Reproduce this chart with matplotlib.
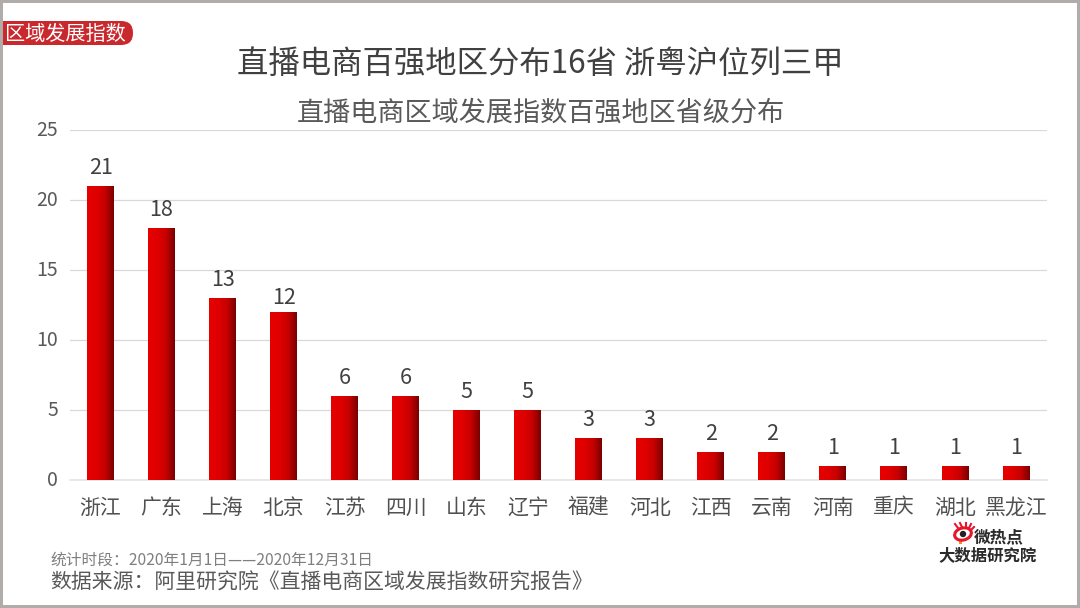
import numpy as np
import matplotlib
matplotlib.use('Agg')
from matplotlib import pyplot as plt
from matplotlib.colors import LinearSegmentedColormap
from matplotlib.lines import Line2D
from matplotlib.patches import Circle, Ellipse, FancyBboxPatch, Rectangle
from matplotlib.transforms import ScaledTranslation

plt.rcParams['font.family'] = ['Noto Sans CJK SC', 'DejaVu Sans']

provinces = ['浙江', '广东', '上海', '北京', '江苏', '四川', '山东', '辽宁',
             '福建', '河北', '江西', '云南', '河南', '重庆', '湖北', '黑龙江']
counts = [21, 18, 13, 12, 6, 6, 5, 5, 3, 3, 2, 2, 1, 1, 1, 1]
y_ticks = [0, 5, 10, 15, 20, 25]

W, H = 1080, 608


def fx(px):
    return px / W


def fy(py):
    return 1 - py / H


fig = plt.figure(figsize=(W / 100, H / 100), dpi=100, facecolor='white')
ax = fig.add_axes([fx(70), fy(480), (1046.5 - 70) / W, (480 - 130) / H])

# bars get a left to right red gradient
grad = LinearSegmentedColormap.from_list('bar', ['#e60000', '#e00000', '#c80000', '#7a0000'])
bars = ax.bar(range(len(counts)), counts, width=0.44, color='#c00000', zorder=2)
for b, n in zip(bars, counts):
    x0, w = b.get_x(), b.get_width()
    ax.imshow(np.linspace(0, 1, 64).reshape(1, -1), cmap=grad, aspect='auto', zorder=3,
              extent=(x0, x0 + w, 0, b.get_height()), interpolation='bilinear')
    # the 12 label sits closer to its bar in the original
    gap = 0.19 if n == 12 else 0.47
    ax.text(x0 + w / 2, n + gap, str(n), ha='center', va='bottom', fontsize=15.5, color='#404040')

ax.set_xlim(-0.5, len(counts) - 0.5)
ax.set_ylim(0, 25)
ax.set_yticks(y_ticks)
ax.set_xticks(range(len(provinces)))
ax.set_xticklabels(provinces)
ax.tick_params(axis='both', length=0)
ax.tick_params(axis='x', labelsize=15, labelcolor='#505050', pad=12)
ax.tick_params(axis='y', labelsize=14, labelcolor='#595959', pad=8.5)
up = ScaledTranslation(0, 1.2 / 72, fig.dpi_scale_trans)
for lab in ax.get_yticklabels():
    lab.set_transform(lab.get_transform() + up)
ax.grid(axis='y', color='#d9d9d9', lw=0.9, zorder=0)
ax.set_axisbelow(True)
for s in ['top', 'right', 'left']:
    ax.spines[s].set_visible(False)
ax.spines['bottom'].set_color('#e4e4e4')
ax.spines['bottom'].set_linewidth(1.2)

# titles
fig.text(fx(540), fy(64), '直播电商百强地区分布16省 浙粤沪位列三甲', ha='center', va='center',
         fontsize=22.6, color='#404040')
fig.text(fx(541), fy(113), '直播电商区域发展指数百强地区省级分布', ha='center', va='center',
         fontsize=19.5, color='#595959')

# red tag top left
fig.add_artist(FancyBboxPatch((fx(-20), fy(45)), 153 / W, 24 / H,
                              boxstyle='round,pad=0,rounding_size=0.011',
                              mutation_aspect=W / H, transform=fig.transFigure,
                              fc='#c9282d', ec='none'))
fig.text(fx(5), fy(34.5), '区域发展指数', ha='left', va='center', fontsize=14.5, color='white')

# source lines
fig.text(fx(50), fy(560), '统计时段：2020年1月1日——2020年12月31日', ha='left', va='center',
         fontsize=11.3, color='#7f7f7f')
fig.text(fx(50), fy(583), '数据来源：阿里研究院《直播电商区域发展指数研究报告》', ha='left', va='center',
         fontsize=15, color='#595959')

# logo, small eye with lashes plus two lines of text
fig.add_artist(Rectangle((959, H - 544), 2.5, 6, transform=None, fc='#f28c28', ec='none'))
fig.add_artist(Ellipse((963, H - 534), 17, 12, angle=15, transform=None, fc='white', ec='#e6162d', lw=2.2))
fig.add_artist(Circle((963, H - 534), 3.2, transform=None, fc='#222222', ec='none'))
lashes = [(958, 528, 955, 524), (962, 527, 960, 523), (966, 527, 966, 523), (969, 528, 971, 524), (971, 530, 974, 527)]
for x0, y0, x1, y1 in lashes:
    fig.add_artist(Line2D([x0, x1], [H - y0, H - y1], transform=None, color='#e6162d', lw=1.5))
fig.text(fx(999), fy(537), '微热点', ha='center', va='center', fontsize=12,
         fontweight='bold', color='#2b2b2b')
fig.text(fx(988), fy(555), '大数据研究院', ha='center', va='center', fontsize=11.8,
         fontweight='bold', color='#2b2b2b')

# grey frame around the slide
fig.add_artist(Rectangle((0, 0), 1, 1, transform=fig.transFigure, fc='none', ec='#b0acaa', lw=4.3))

fig.savefig('out.png', dpi=100)
